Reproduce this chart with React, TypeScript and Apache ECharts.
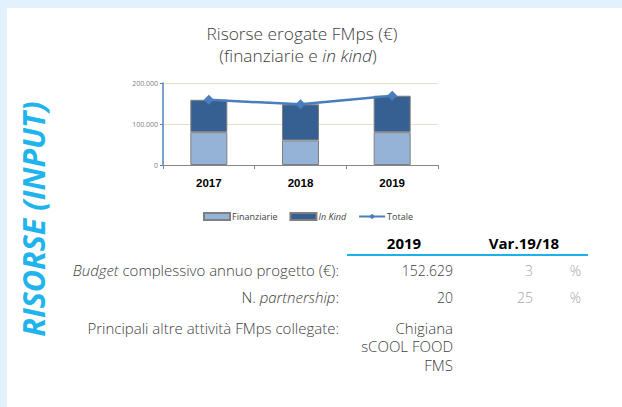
import React, { useEffect, useRef } from "react";
import * as echarts from "echarts";

const years = ["2017", "2018", "2019"];
const finanziarie = [80000, 60000, 80000];
const inKind = [79000, 88000, 89000];
const totale = [159000, 148000, 169000];

const headerYear = "2019";
const headerVar = "Var.19/18";
const rowLabels = ["Budget", "N. ", "Principali altre attività FMps collegate:"];
const rowValues = ["152.629", "20"];
const rowVariations = ["3", "25"];
const activities = ["Chigiana", "sCOOL FOOD", "FMS"];

const fmt = (v: number) => String(v).replace(/\B(?=(\d{3})+(?!\d))/g, ".");

const FONT = "'Open Sans', 'Noto Sans', sans-serif";
const TXT = "#404040";

export default function App() {
  const ref = useRef<HTMLDivElement>(null);
  useEffect(() => {
    document.body.style.margin = "0";
    const chart = echarts.init(ref.current!, null, { renderer: "svg" });
    const t = (x: number, y: number, text: string, extra: any = {}, rich?: any) => ({
      type: "text",
      x,
      y,
      style: {
        text,
        fontFamily: FONT,
        fontSize: 14,
        fontWeight: 300,
        fill: TXT,
        textAlign: "right",
        textVerticalAlign: "middle",
        ...(rich ? { rich } : {}),
        ...extra,
      },
    });
    const LS = 15;
    const richItalic = {
      i: { fontFamily: FONT, fontSize: LS, fontWeight: 300, fontStyle: "italic", fill: TXT },
      n: { fontFamily: FONT, fontSize: LS, fontWeight: 300, fill: TXT },
    };
    chart.setOption({
      animation: false,
      backgroundColor: "#ffffff",
      grid: { left: 163, top: 83, width: 275, height: 82 },
      legend: {
        left: 198,
        top: 207,
        itemGap: 12,
        itemWidth: 26,
        itemHeight: 7,
        textStyle: {
          fontFamily: FONT,
          fontSize: 9,
          color: TXT,
          padding: [0, 0, 0, -3],
          rich: { i: { fontStyle: "italic", fontFamily: FONT, fontSize: 9, color: TXT } },
        },
        formatter: (name: string) => (name === "In Kind" ? "{i|In Kind}" : name),
        data: [
          { name: "Finanziarie", icon: "rect" },
          { name: "In Kind", icon: "rect" },
          { name: "Totale" },
        ],
      },
      xAxis: {
        type: "category",
        data: years,
        axisLine: { lineStyle: { color: "#868686", width: 1 } },
        axisTick: { show: true, length: 4, lineStyle: { color: "#868686" } },
        axisLabel: {
          margin: 12,
          fontFamily: "'Liberation Sans', Arial, sans-serif",
          fontWeight: "bold",
          fontSize: 11.5,
          color: "#000000",
        },
      },
      yAxis: {
        type: "value",
        min: 0,
        max: 200000,
        interval: 100000,
        axisLine: { show: true, lineStyle: { color: "#4f81bd", width: 1.5 } },
        axisTick: { show: true, length: 3, lineStyle: { color: "#4f81bd" } },
        splitLine: { lineStyle: { color: "#e6dfc5", width: 1 } },
        axisLabel: {
          margin: 5,
          fontFamily: FONT,
          fontSize: 7,
          color: "#7f7f7f",
          formatter: (v: number) => fmt(v),
        },
      },
      series: [
        {
          name: "Finanziarie",
          type: "bar",
          stack: "tot",
          barWidth: 37,
          data: finanziarie,
          itemStyle: { color: "#95b3d7", borderColor: "#7f7f7f", borderWidth: 1 },
        },
        {
          name: "In Kind",
          type: "bar",
          stack: "tot",
          barWidth: 37,
          data: inKind,
          itemStyle: { color: "#366092", borderColor: "#7f7f7f", borderWidth: 1 },
        },
        {
          name: "Totale",
          type: "line",
          data: totale,
          symbol: "diamond",
          symbolSize: 10,
          lineStyle: { color: "#4a7ebb", width: 2.5 },
          itemStyle: { color: "#4a7ebb" },
          z: 5,
        },
      ],
      graphic: [
        { type: "rect", shape: { x: 0, y: 0, width: 622, height: 8 }, style: { fill: "#e3f1fc" }, z: -10 },
        { type: "rect", shape: { x: 0, y: 0, width: 7, height: 407 }, style: { fill: "#e3f1fc" }, z: -10 },
        {
          type: "text",
          x: 302,
          y: 33,
          style: {
            text: "Risorse erogate FMps (€)",
            fontFamily: FONT,
            fontSize: 17.3,
            fontWeight: 300,
            fill: TXT,
            textAlign: "center",
            textVerticalAlign: "middle",
          },
        },
        {
          type: "text",
          x: 298,
          y: 55,
          style: {
            text: "{n|(finanziarie e }{i|in kind}{n|)}",
            textAlign: "center",
            textVerticalAlign: "middle",
            rich: {
              n: { fontFamily: FONT, fontSize: 17.3, fontWeight: 300, fill: TXT },
              i: { fontFamily: FONT, fontSize: 17.3, fontWeight: 300, fontStyle: "italic", fill: TXT },
            },
          },
        },
        {
          type: "text",
          x: 33,
          y: 219,
          rotation: Math.PI / 2,
          style: {
            text: "RISORSE (INPUT)",
            fontFamily: FONT,
            fontSize: 30.5,
            fontWeight: "bold",
            fontStyle: "italic",
            fill: "#1fb4ed",
            textAlign: "center",
            textVerticalAlign: "middle",
          },
        },
        t(404, 243, headerYear, { textAlign: "center", fontWeight: "bold", fontSize: 15, fill: "#000000" }),
        t(524, 243, headerVar, { textAlign: "center", fontWeight: "bold", fontSize: 15, fill: "#000000" }),
        { type: "rect", shape: { x: 347, y: 254, width: 241, height: 2 }, style: { fill: "#1ab2e8" } },
        t(339, 270, "{i|" + rowLabels[0] + "}{n| complessivo annuo progetto (€):}", {}, richItalic),
        t(339, 297, "{n|" + rowLabels[1] + "}{i|partnership}{n|:}", {}, richItalic),
        t(339, 328, rowLabels[2], { fontSize: LS }),
        t(453, 270, rowValues[0]),
        t(453, 297, rowValues[1]),
        t(533, 270, rowVariations[0], { fill: "#a6a6a6" }),
        t(533, 297, rowVariations[1], { fill: "#a6a6a6" }),
        t(581, 270, "%", { fill: "#a6a6a6" }),
        t(581, 297, "%", { fill: "#a6a6a6" }),
        t(453, 318.5, activities.join("\n"), { fontSize: LS, lineHeight: 18.5, textVerticalAlign: "top" }),
      ],
    });
    return () => chart.dispose();
  }, []);
  return <div ref={ref} style={{ position: "absolute", left: 0, top: 0, width: 622, height: 407 }} />;
}
